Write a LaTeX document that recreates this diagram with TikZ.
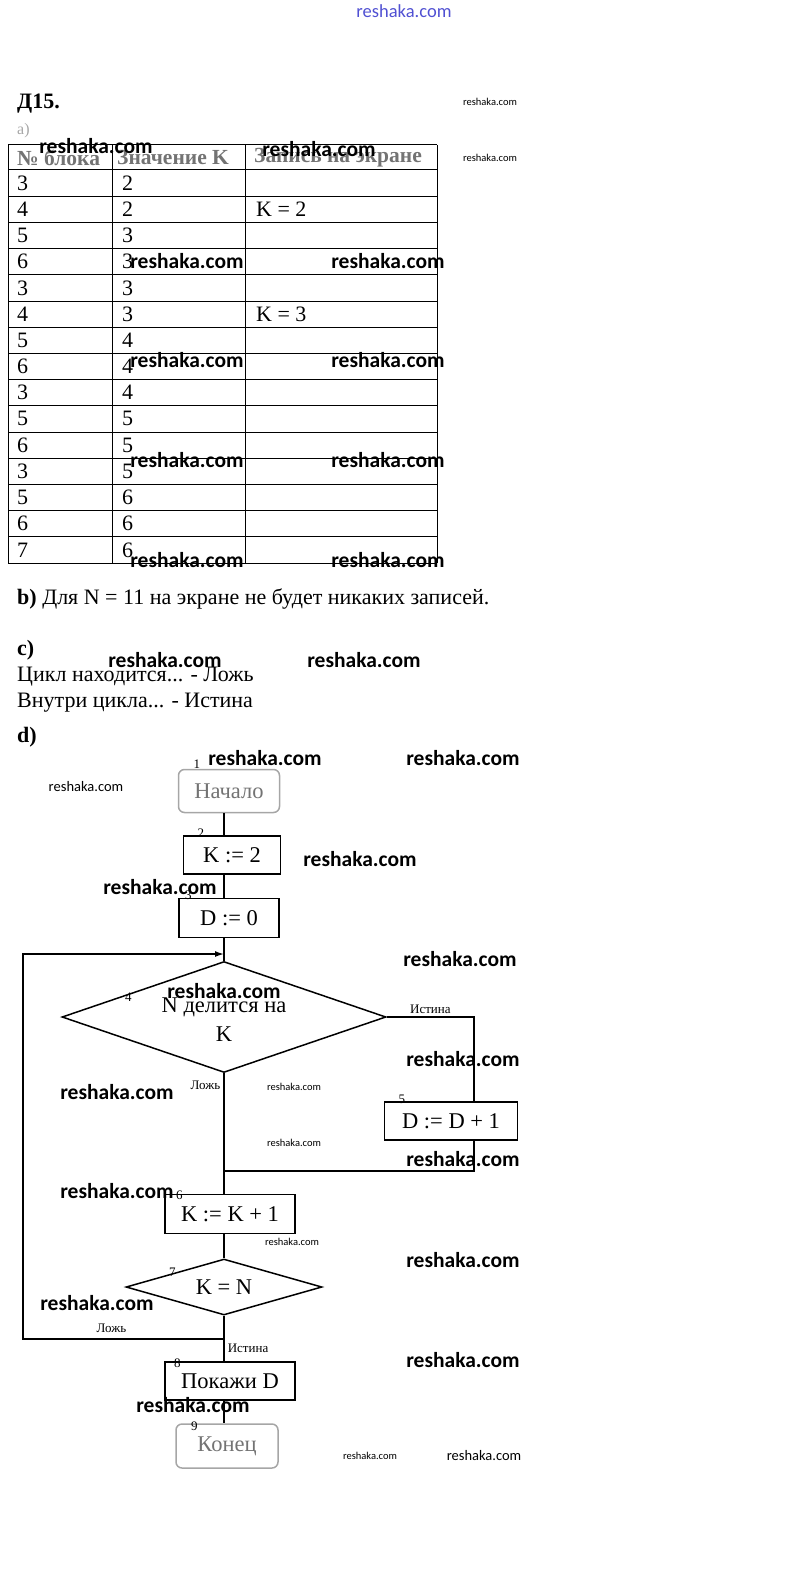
\documentclass[tikz,border=0pt]{standalone}
\usepackage{fontspec}
\setmainfont{Liberation Serif}
\newfontfamily\wmfont{Carlito}
\usetikzlibrary{positioning,arrows.meta,shapes.geometric,calc}
\definecolor{wmblue}{RGB}{80,80,210}
% текст внутри ромба не должен влиять на его размер
\newcommand{\flattext}[2]{\raisebox{-#1}[0pt][0pt]{\makebox[0pt]{#2}}}

\begin{document}
\begin{tikzpicture}[
	x=1pt, y=-1pt,
	font=\fontsize{22}{26}\selectfont,
	txt/.style={anchor=west, inner sep=0pt},
	cell/.style={anchor=west, inner sep=0pt},
	head/.style={
		anchor=west,
		inner sep=0pt,
		text=black!55,
		font=\fontsize{21.5}{24}\selectfont\bfseries,
	},
	block/.style={
		draw,
		line width=1.5pt,
		inner sep=0pt,
		font=\fontsize{22.5}{26}\selectfont,
	},
	term/.style={block, draw=black!35, text=black!55, rounded corners=6pt},
	cond/.style={block, diamond},
	flow/.style={line width=1.5pt},
	lbl/.style={inner sep=1pt, font=\fontsize{13}{15}\selectfont},
	num/.style={inner sep=0pt, font=\fontsize{13}{15}\selectfont},
	wm/.style={inner sep=0pt, font=\wmfont\bfseries\fontsize{21.5}{24}\selectfont},
	wmsmall/.style={inner sep=0pt, font=\wmfont\fontsize{14.5}{16}\selectfont},
	wmtiny/.style={inner sep=0pt, font=\wmfont\fontsize{10.5}{12}\selectfont},
]
\useasboundingbox (0,0) rectangle (809,1573);

\node[txt, font=\fontsize{22}{26}\selectfont\bfseries] (title) at (17,104) {Д15.};
\node[txt, text=black!35, font=\fontsize{16}{18}\selectfont] (parta) at (17,131) {a)};

% таблица: шапка 145--170, строки по 26.2
\draw[line width=1pt] (8,145) -- (437,145);
\foreach \i in {0,...,15}
	\draw[line width=1pt] (8,{170+26.2*\i}) -- (437,{170+26.2*\i});
\foreach \xx in {8,112,245,437}
	\draw[line width=1pt] (\xx,145) -- (\xx,563);

\node[head] (h1) at (17,157.5) {№ блока};
\node[head] (h2) at (117,157.5) {Значение K};
\node[head] (h3) at (254,157.5) {Запись на экране};

\foreach \b/\k [count=\i] in {3/2,4/2,5/3,6/3,3/3,4/3,5/4,6/4,3/4,5/5,6/5,3/5,5/6,6/6,7/6} {
	\node[cell] (b\i) at (17,{170+26.2*\i-13.1}) {\b};
	\node[cell] (k\i) at (122,{170+26.2*\i-13.1}) {\k};
}
\node[cell] (s2) at (256,{170+26.2*2-13.1}) {K = 2};
\node[cell] (s6) at (256,{170+26.2*6-13.1}) {K = 3};

\node[txt] (partb) at (17,599) {\textbf{b)} Для N = 11 на экране не будет никаких записей.};
\node[txt] (partc) at (17,650) {\textbf{c)}};
\node[txt] (c1) at (17,677) {Цикл находится... - Ложь};
\node[txt] (c2) at (17,703) {Внутри цикла... - Истина};
\node[txt] (partd) at (17,737) {\textbf{d)}};

% блок-схема
\coordinate (axis) at (224,0);
\coordinate (rline) at (474,0);

\node[term, minimum width=101pt, minimum height=43pt] (start) at (229,791) {Начало};
\node[block, minimum width=97pt, minimum height=38pt] (k2) at (232,855) {K := 2};
\node[block, minimum width=100pt, minimum height=39pt] (d0) at (229,918) {D := 0};
\node[cond, minimum width=324pt, minimum height=111pt] (cond4) at (224,1017)
	{\flattext{10pt}{\begin{tabular}{@{}c@{}}N делится на\\[3pt]K\end{tabular}}};
\node[block, minimum width=133pt, minimum height=38pt] (d1) at (451,1121) {D := D + 1};
\node[block, minimum width=130pt, minimum height=39pt] (k1) at (230,1214) {K := K + 1};
\node[cond, minimum width=196pt, minimum height=56pt] (cond7) at (224,1287)
	{\flattext{7.5pt}{K = N}};
\node[block, minimum width=130pt, minimum height=38pt] (show) at (230,1381) {Покажи D};
\node[term, minimum width=102pt, minimum height=44pt] (stop) at (227,1446) {Конец};

\node[num] (n1) at ([xshift=19pt,yshift=5pt]start.north west) {1};
\node[num] (n2) at ([xshift=18pt,yshift=2pt]k2.north west) {2};
\node[num] (n3) at ([xshift=10pt,yshift=3pt]d0.north west) {3};
\node[num] (n4) at ([xshift=67pt,yshift=20pt]cond4.west) {4};
\node[num] (n5) at ([xshift=18pt,yshift=2pt]d1.north west) {5};
\node[num] (n6) at ([xshift=15pt,yshift=-1pt]k1.north west) {6};
\node[num] (n7) at ([xshift=47pt,yshift=15pt]cond7.west) {7};
\node[num] (n8) at ([xshift=13pt,yshift=-2pt]show.north west) {8};
\node[num] (n9) at ([xshift=19pt,yshift=-3pt]stop.north west) {9};

\coordinate (entry) at (224,954);
\coordinate (join) at (224,1171);
\coordinate (back) at (224,1339);
\coordinate (loopb) at (23,1339);
\coordinate (loopt) at (23,954);

\draw[flow] (start.south -| axis) -- (k2.north -| axis);
\draw[flow] (k2.south -| axis) -- (d0.north -| axis);
\draw[flow] (d0.south -| axis) -- (cond4.north);
\draw[flow] (cond4.east) -| (d1.north -| rline)
	node[lbl, pos=0.25, above=2pt] {Истина};
\draw[flow] (d1.south -| rline) |- (join);
\draw[flow] (cond4.south) -- (k1.north -| axis)
	node[lbl, pos=0.1, left=2pt] {Ложь};
\draw[flow] (k1.south -| axis) -- (cond7.north);
\draw[flow] (cond7.south) -- (show.north -| axis)
	node[lbl, pos=0.72, right=2pt] {Истина};
\draw[flow] (show.south -| axis) -- (stop.north -| axis);
\draw[flow, -{Latex[length=9pt,width=6pt]}] (back) -- (loopb)
	node[lbl, pos=0.56, above=5pt] {Ложь}
	-- (loopt) -- (entry);

% водяные знаки
\node[wmsmall, text=wmblue, font=\wmfont\fontsize{18.5}{20}\selectfont] (wmtop) at (404,11) {reshaka.com};
\foreach \wx/\wy [count=\i] in {96/146,319/149,187/261,388/261,187/360,388/360,
	187/460,388/460,187/560,388/560,165/660,364/660,265/758,463/758,360/859,
	160/887,460/959,224/991,463/1059,117/1092,463/1159,117/1191,463/1260,
	97/1303,463/1360,193/1405}
	\node[wm] (wm\i) at (\wx,\wy) {reshaka.com};
\node[wmsmall] (wms1) at (86,787) {reshaka.com};
\node[wmsmall] (wms2) at (484,1456) {reshaka.com};
\foreach \wx/\wy [count=\i] in {490/102,490/158,294/1087,294/1143,292/1242,370/1456}
	\node[wmtiny] (wmt\i) at (\wx,\wy) {reshaka.com};
\end{tikzpicture}
\end{document}
